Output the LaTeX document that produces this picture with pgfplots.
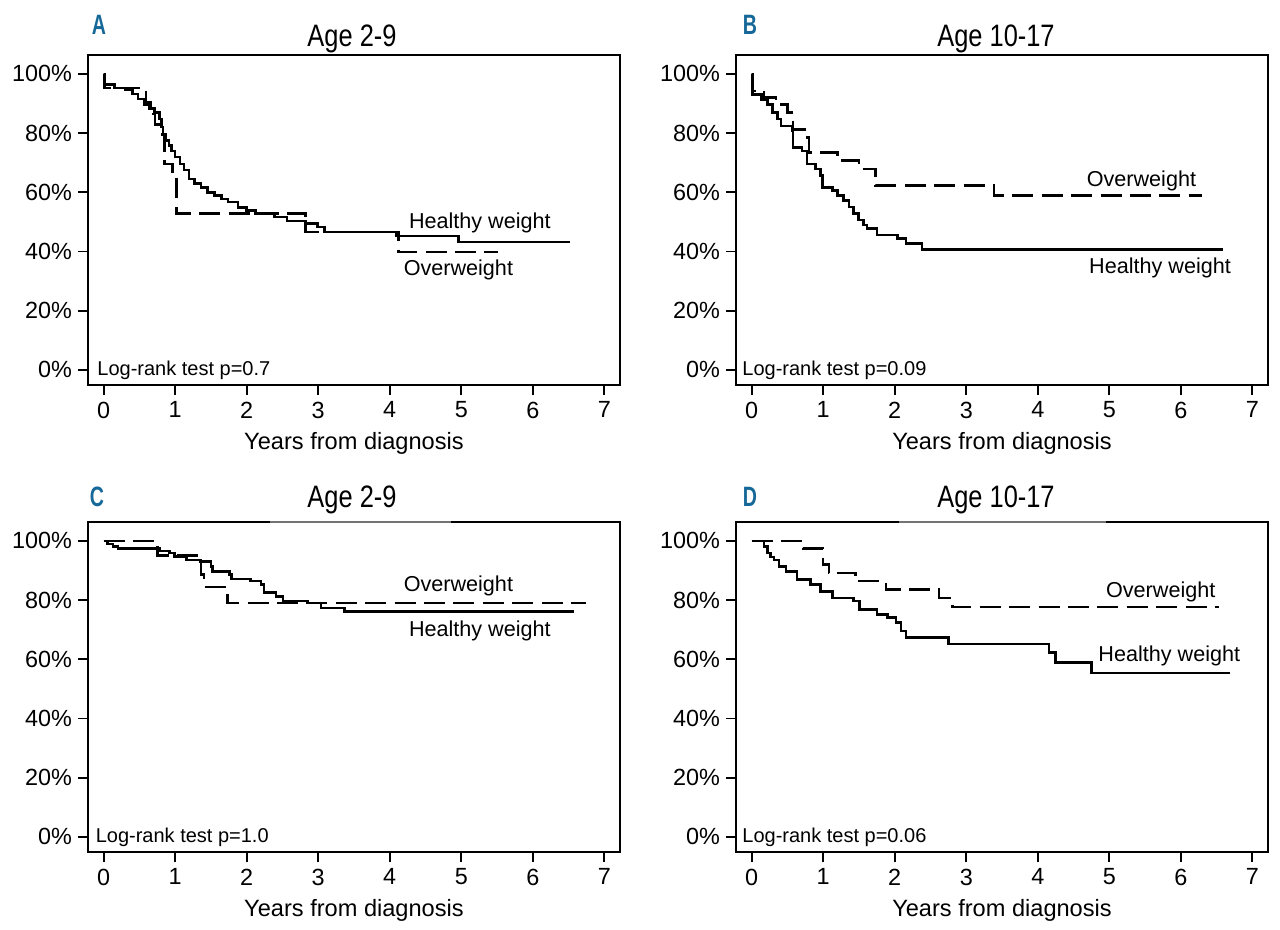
\documentclass[border=0pt]{standalone}
\usepackage{fontspec}
\setmainfont{Liberation Sans}
\newfontfamily\condfont[FakeStretch=0.82]{Liberation Sans}
\newfontfamily\letterfont[FakeStretch=0.7]{Liberation Sans}
\usepackage{pgfplots}
\pgfplotsset{compat=1.18}
\definecolor{panelblue}{RGB}{22,104,152}

% 1 px of the reference = 0.5pt
\pgfplotsset{
  km/.style={
    scale only axis, width=266pt, height=165pt,
    xmin=-0.22, xmax=7.22, ymin=-5.1, ymax=106.4,
    xtick={0,1,...,7}, ytick={0,20,...,100},
    yticklabels={0\%,20\%,40\%,60\%,80\%,100\%},
    xtick pos=left, ytick pos=left,
    tick align=outside, major tick length=4.8pt,
    major tick style={line width=0.9pt, black},
    axis line style={line width=1pt},
    tick label style={font=\fontsize{11.7}{13}\selectfont},
    yticklabel style={inner xsep=3pt},
    /pgf/number format/assume math mode=true,
    xlabel={Years from diagnosis},
    xlabel style={font=\fontsize{11.8}{14}\selectfont},
    every axis plot/.append style={const plot mark left, black, line width=1.25pt, mark=none},
  },
}
\tikzset{
  hw/.style={solid},
  ow/.style={dash pattern=on 10.5pt off 4.2pt},
  lab/.style={font=\fontsize{10.8}{12}\selectfont, inner sep=0pt},
  lr/.style={font=\fontsize{10}{12}\selectfont, inner sep=0pt, anchor=west},
  ttl/.style={anchor=base, font=\condfont\fontsize{15.5}{17}\selectfont},
  let/.style={anchor=base, text=panelblue, font=\letterfont\bfseries\fontsize{14}{15}\selectfont},
}

\begin{document}
\begin{tikzpicture}
\useasboundingbox (0,0) rectangle (640pt,-465pt);

% ---------- A ----------
\begin{axis}[km, at={(44pt,-27.5pt)}, anchor=north west]
\addplot[hw] coordinates {(0,100) (0.01,96.4) (0.15,95.3) (0.3,94.5) (0.4,93.2) (0.48,91.5)
  (0.56,89.7) (0.64,88.3) (0.71,86.9) (0.78,84.7) (0.81,82.0) (0.83,79.6) (0.87,77.5)
  (0.91,75.8) (0.95,74.0) (1.0,72.0) (1.07,69.6) (1.12,67.5) (1.19,64.5) (1.27,63.0)
  (1.36,61.7) (1.45,60.0) (1.55,59.0) (1.65,57.8) (1.74,56.7) (1.88,54.8) (2.0,53.8)
  (2.12,52.8) (2.39,51.7) (2.56,50.3) (2.82,49.4) (2.99,48.3) (3.09,46.6) (4.09,45.2)
  (4.96,43.3) (6.52,43.3)};
\addplot[ow] coordinates {(0,100) (0.01,95.3) (0.59,90.3) (0.66,86.4) (0.72,83) (0.80,79.6)
  (0.85,69.5) (0.96,64.5) (1.02,52.8) (2.82,46.6) (4.12,39.9) (5.51,39.9)};
\node[lab] at (axis cs:5.26,49.8) {Healthy weight};
\node[lab] at (axis cs:4.96,33.8) {Overweight};
\node[lr] at ([xshift=4.5pt]axis cs:-0.22,0) {Log-rank test p=0.7};
\end{axis}

% ---------- B ----------
\begin{axis}[km, at={(368pt,-27.5pt)}, anchor=north west]
\addplot[hw] coordinates {(0,100) (0.01,93.1) (0.14,91.4) (0.22,89.7) (0.29,86.9) (0.36,84.7)
  (0.41,82.4) (0.57,80.8) (0.58,75.2) (0.70,74.0) (0.77,69.6) (0.89,67.9) (0.96,65.7)
  (0.99,61.7) (1.13,60.6) (1.20,59.0) (1.28,57.3) (1.36,55.0) (1.42,52.8) (1.49,50.6)
  (1.56,48.9) (1.61,47.8) (1.75,45.5) (2.04,44.4) (2.16,42.7) (2.38,40.7) (6.59,40.7)};
\addplot[ow] coordinates {(0,100) (0.01,94.2) (0.17,92) (0.34,89.7) (0.5,86.9) (0.58,81.3)
  (0.78,78.5) (0.80,73.5) (1.2,70.7) (1.5,67.9) (1.73,62.3) (3.39,58.9) (6.30,58.9)};
\node[lab] at (axis cs:5.45,64) {Overweight};
\node[lab] at (axis cs:5.71,34.3) {Healthy weight};
\node[lr] at ([xshift=3pt]axis cs:-0.22,0) {Log-rank test p=0.09};
\end{axis}

% ---------- C ----------
\begin{axis}[km, at={(44pt,-261pt)}, anchor=north west]
\addplot[hw] coordinates {(0,100) (0.05,99) (0.13,98.1) (0.2,97.5) (0.78,96.6) (0.92,95.9)
  (0.99,94.7) (1.16,93.6) (1.35,93.1) (1.50,91.4) (1.52,89.7) (1.76,88.6) (1.79,87.2)
  (2.05,86.4) (2.20,85.3) (2.24,82.5) (2.41,81.3) (2.51,79.7) (2.85,79.1) (3.04,77.4)
  (3.37,76.1) (6.57,76.1)};
\addplot[ow] coordinates {(0,100) (0.75,95) (1.36,88.6) (1.40,84.4) (1.73,79.1) (6.74,79.1)};
\node[lab] at (axis cs:4.96,84.7) {Overweight};
\node[lab] at (axis cs:5.26,69.6) {Healthy weight};
\node[lr] at ([xshift=3.7pt]axis cs:-0.22,0) {Log-rank test p=1.0};
\end{axis}

% ---------- D ----------
\begin{axis}[km, at={(368pt,-261pt)}, anchor=north west]
\addplot[hw] coordinates {(0,100) (0.17,98.1) (0.22,95.9) (0.26,94.5) (0.31,93.6) (0.38,91.4)
  (0.48,89.7) (0.63,86.9) (0.82,85.3) (0.96,83.0) (1.13,80.8) (1.42,79.7) (1.51,76.9)
  (1.75,75.2) (1.90,74.1) (2.02,72.4) (2.09,69.6) (2.16,67.4) (2.75,65.1) (4.16,62.3)
  (4.25,59.0) (4.75,55.4) (6.69,55.4)};
\addplot[ow] coordinates {(0,100) (0.72,97.5) (1.0,92) (1.08,89.2) (1.45,86.4) (1.88,83.6)
  (2.62,80.8) (2.81,77.7) (6.54,77.7)};
\node[lab] at (axis cs:5.72,82.7) {Overweight};
\node[lab] at (axis cs:5.84,61.2) {Healthy weight};
\node[lr] at ([xshift=3pt]axis cs:-0.22,0) {Log-rank test p=0.06};
\end{axis}

% lighter stretch of the top frame under the lower titles
\draw[white, line width=1.2pt] (135pt,-261pt) -- (225.5pt,-261pt) (449.5pt,-261pt) -- (553pt,-261pt);
\draw[black!55, line width=0.7pt] (135pt,-261pt) -- (225.5pt,-261pt) (449.5pt,-261pt) -- (553pt,-261pt);

% titles and panel letters
\node[ttl] at (176pt,-23.5pt) {Age 2-9};
\node[ttl] at (498pt,-23.5pt) {Age 10-17};
\node[ttl] at (176pt,-254pt) {Age 2-9};
\node[ttl] at (498pt,-254pt) {Age 10-17};
\node[let] at (49.5pt,-17.5pt) {A};
\node[let] at (375pt,-17.5pt) {B};
\node[let] at (48.5pt,-253.5pt) {C};
\node[let] at (375pt,-253.5pt) {D};
\end{tikzpicture}
\end{document}
